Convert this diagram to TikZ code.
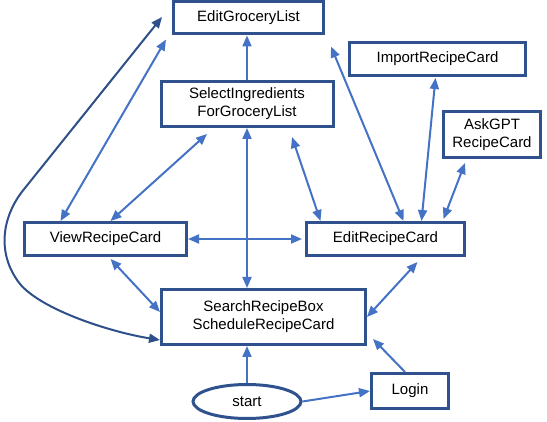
\documentclass[tikz,border=0pt]{standalone}
\usepackage{fontspec}
\setmainfont{Liberation Sans}
\usetikzlibrary{arrows.meta,calc,shapes.geometric}
\definecolor{boxc}{HTML}{2F528F}
\definecolor{edgec}{HTML}{4472C4}
\definecolor{curvec}{HTML}{2F4F8A}
\tikzset{
  box/.style={draw=boxc, line width=3pt, fill=white, inner sep=0pt, align=center,
    font=\fontsize{15}{18}\selectfont},
  oval/.style={ellipse, draw=boxc, line width=3pt, fill=white, inner sep=0pt,
    font=\fontsize{15}{18}\selectfont},
  link/.style={draw=edgec, line width=2pt, -{Triangle[length=11pt,width=9pt]}},
  blink/.style={draw=edgec, line width=2pt, {Triangle[length=11pt,width=9pt]}-{Triangle[length=11pt,width=9pt]}},
  clink/.style={draw=curvec, line width=2pt, {Triangle[length=11pt,width=9pt]}-{Triangle[length=11pt,width=9pt]}}
}
\begin{document}
\begin{tikzpicture}[x=1pt,y=-1pt]
\useasboundingbox (0,0) rectangle (547,422);
\node[box, minimum width=150pt, minimum height=32pt] (egl) at (248.5,18) {EditGroceryList};
\node[box, minimum width=176pt, minimum height=33pt] (imp) at (437.5,59) {ImportRecipeCard};
\node[box, minimum width=172pt, minimum height=45pt] (sel) at (247,104) {SelectIngredients\\ForGroceryList};
\node[box, minimum width=97pt, minimum height=46pt] (ask) at (492,134.5) {AskGPT\\RecipeCard};
\node[box, minimum width=162pt, minimum height=33pt] (view) at (105.5,239) {ViewRecipeCard};
\node[box, minimum width=158pt, minimum height=33pt] (erc) at (385.5,239) {EditRecipeCard};
\node[box, minimum width=204pt, minimum height=55pt] (search) at (263.5,317) {SearchRecipeBox\\ScheduleRecipeCard};
\node[oval, minimum width=108pt, minimum height=34pt] (start) at (247,401.5) {start};
\node[box, minimum width=77pt, minimum height=35pt] (login) at (410,391) {Login};

% curved connector
\draw[clink] ($(egl.west)+(-10,-1)$) -- (25,188) .. controls (3,214) and (-5,252) .. (20,284) .. controls (42,310) and (110,332) .. ($(search.west)+(0,23)$);

\draw[link] (sel.north) -- (sel.north |- egl.south);
\draw[blink] ($(view.north)+(-45,0)$) -- ($(egl.south west)+(-6,4)$);
\draw[blink] ($(view.north)+(5,0)$) -- ($(sel.south)+(-40,6)$);
\draw[blink] (sel.south) -- (sel.south |- search.north);
\draw[blink] ($(sel.south)+(45,9)$) -- ($(erc.north)+(-65,0)$);
\draw[blink] ($(egl.south east)+(6,11)$) -- ($(erc.north)+(18,0)$);
\draw[blink] ($(erc.north)+(36,0)$) -- ($(imp.south)+(-2,1)$);
\draw[blink] ($(erc.north)+(58,-2)$) -- ($(ask.south)+(-27,4)$);
\draw[blink] (view.east) -- ($(erc.west)+(-3,0)$);
\draw[blink] ($(view.south)+(5,2)$) -- ($(search.west)+(0,-5)$);
\draw[blink] ($(erc.south)+(32,5)$) -- (search.east);
\draw[link] (start.north) -- (start.north |- search.south);
\draw[link] (start.east) -- (login.west);
\draw[link] ($(login.north)+(-5,0)$) -- ($(search.east)+(6,22)$);
\end{tikzpicture}
\end{document}
